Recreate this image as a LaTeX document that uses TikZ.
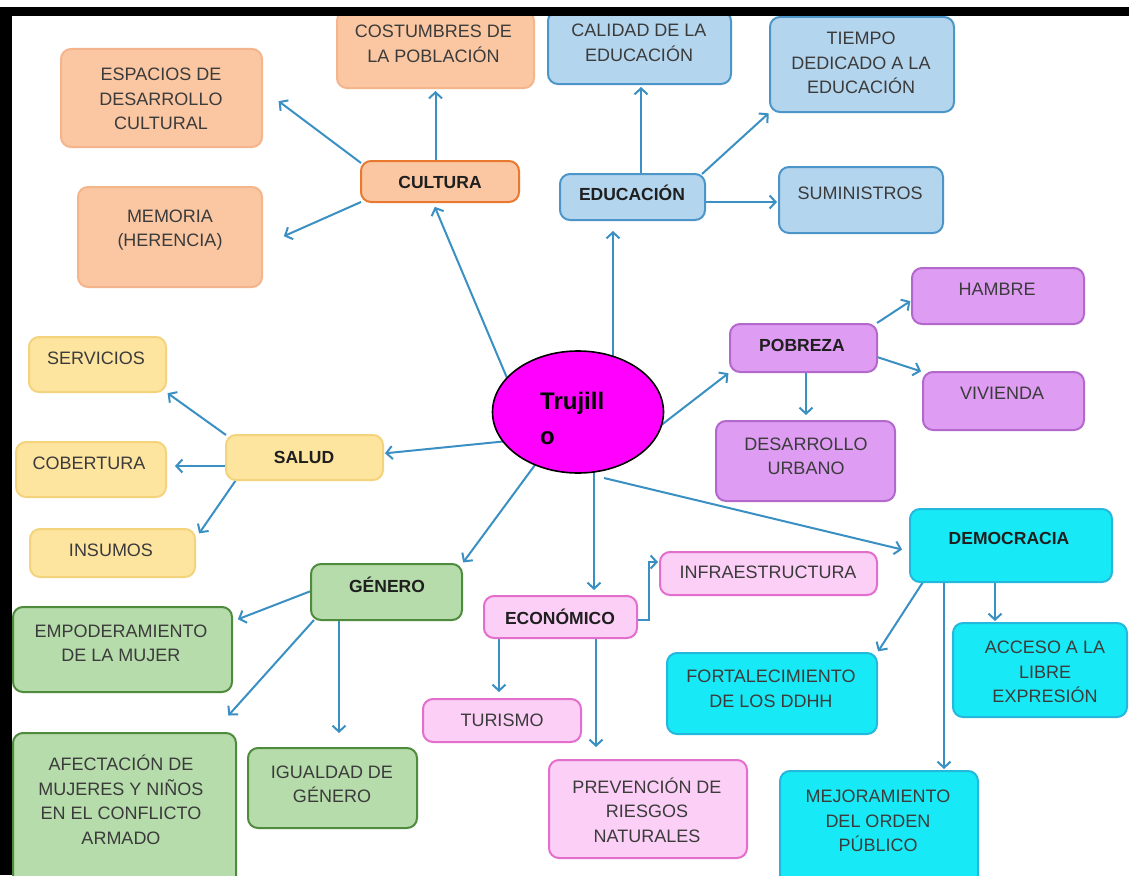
\documentclass[tikz,border=0pt]{standalone}
\usepackage{fontspec}
\setmainfont{Liberation Sans}
\usetikzlibrary{arrows.meta,shapes.geometric}
\definecolor{ofill}{HTML}{FBC7A2}
\definecolor{odraw}{HTML}{F4B58C}
\definecolor{ohead}{HTML}{E8792F}
\definecolor{bfill}{HTML}{B4D5EE}
\definecolor{bdraw}{HTML}{4C95C9}
\definecolor{pfill}{HTML}{DE9CF2}
\definecolor{pdraw}{HTML}{B368CC}
\definecolor{yfill}{HTML}{FDE49F}
\definecolor{ydraw}{HTML}{F3D47D}
\definecolor{gfill}{HTML}{B5DCAA}
\definecolor{gdraw}{HTML}{4E8B3C}
\definecolor{kfill}{HTML}{FCCFF6}
\definecolor{kdraw}{HTML}{E46ECC}
\definecolor{cfill}{HTML}{17EAF6}
\definecolor{cdraw}{HTML}{24B8DD}
\definecolor{arrc}{HTML}{3A90C3}
\definecolor{txtc}{HTML}{3B3B3B}
\definecolor{magen}{HTML}{FF00FF}
\pgfdeclarelayer{back}
\pgfdeclarelayer{bg}
\pgfsetlayers{back,bg,main}
\begin{document}
\begin{tikzpicture}[x=1pt,y=-1pt,
  box/.style={rounded corners=10pt, line width=2pt, inner sep=0pt, outer sep=0pt},
  sz/.style 2 args={minimum width=#1, minimum height=#2},
  obox/.style={box, fill=ofill, draw=odraw},
  ohbox/.style={box, fill=ofill, draw=ohead},
  bbox/.style={box, fill=bfill, draw=bdraw},
  pbox/.style={box, fill=pfill, draw=pdraw},
  ybox/.style={box, fill=yfill, draw=ydraw},
  gbox/.style={box, fill=gfill, draw=gdraw},
  kbox/.style={box, fill=kfill, draw=kdraw},
  cbox/.style={box, fill=cfill, draw=cdraw},
  txt/.style={align=center, text=txtc, inner sep=0pt, font=\fontsize{18}{24.5}\selectfont},
  htxt/.style={align=center, text=black!88, inner sep=0pt, font=\bfseries\fontsize{17.5}{21}\selectfont},
  arr/.style={draw=arrc, line width=2pt, -{Straight Barb[length=6pt,width=13pt]}, shorten >=2pt}
]
\useasboundingbox (0,0) rectangle (1129,875);
\begin{pgfonlayer}{back}
\fill[white] (0,0) rectangle (1129,875);
\end{pgfonlayer}

% central node
\node[ellipse, draw=black, line width=1.6pt, fill=magen, minimum width=171, minimum height=122, inner sep=0pt] (tru) at (578,412) {};
\node[anchor=west, align=left, inner sep=0pt, font=\bfseries\fontsize{24}{35}\selectfont] (truT) at (540,418) {Trujill\\o};

% CULTURA
\node[obox, sz={197}{77}] (cos) at (435.5,49.5) {};
\node[txt] (cosT) at (433.5,44) {COSTUMBRES DE\\LA POBLACIÓN};
\node[obox, sz={201}{98}] (esp) at (161.5,98) {};
\node[txt] (espT) at (161,99) {ESPACIOS DE\\DESARROLLO\\CULTURAL};
\node[obox, sz={184}{100}] (mem) at (170,237) {};
\node[txt] (memT) at (170,230) {MEMORIA\\(HERENCIA)};
\node[ohbox, sz={158}{41}] (cul) at (440,181.5) {};
\node[htxt] (culT) at (440,182) {CULTURA};

% EDUCACION
\node[bbox, sz={183}{73}] (cal) at (639.5,47.5) {};
\node[txt] (calT) at (639,43) {CALIDAD DE LA\\EDUCACIÓN};
\node[bbox, sz={184}{95}] (tie) at (862,64.5) {};
\node[txt] (tieT) at (861,63) {TIEMPO\\DEDICADO A LA\\EDUCACIÓN};
\node[bbox, sz={145}{46}] (edu) at (632.5,197) {};
\node[htxt] (eduT) at (632,193) {EDUCACIÓN};
\node[bbox, sz={164}{66}] (sum) at (861,200) {};
\node[txt] (sumT) at (860,193) {SUMINISTROS};

% SALUD
\node[ybox, sz={137}{55}] (ser) at (97.5,364.5) {};
\node[txt] (serT) at (96,358) {SERVICIOS};
\node[ybox, sz={150}{55}] (cob) at (91,469.5) {};
\node[txt] (cobT) at (89,463) {COBERTURA};
\node[ybox, sz={165}{48}] (ins) at (112.5,553) {};
\node[txt] (insT) at (111,550) {INSUMOS};
\node[ybox, sz={157}{45}] (sal) at (304.5,457.5) {};
\node[htxt] (salT) at (304,457) {SALUD};

% POBREZA
\node[pbox, sz={172}{56}] (ham) at (998,296) {};
\node[txt] (hamT) at (997,289) {HAMBRE};
\node[pbox, sz={147}{48}] (pob) at (803.5,348) {};
\node[htxt] (pobT) at (802,345) {POBREZA};
\node[pbox, sz={161}{58}] (viv) at (1003.5,401) {};
\node[txt] (vivT) at (1002,393) {VIVIENDA};
\node[pbox, sz={179}{80}] (des) at (805.5,461) {};
\node[txt] (desT) at (806,456.5) {DESARROLLO\\URBANO};

% GENERO
\node[gbox, sz={151}{56}] (gen) at (386.5,592) {};
\node[htxt] (genT) at (387,585) {GÉNERO};
\node[gbox, sz={219}{85}] (emp) at (122.5,649.5) {};
\node[txt] (empT) at (121,643.5) {EMPODERAMIENTO\\DE LA MUJER};
\node[gbox, sz={223}{157}] (afe) at (124.5,811.5) {};
\node[txt] (afeT) at (121,800) {AFECTACIÓN DE\\MUJERES Y NIÑOS\\EN EL CONFLICTO\\ARMADO};
\node[gbox, sz={169}{80}] (igu) at (332.5,788) {};
\node[txt] (iguT) at (332,784.5) {IGUALDAD DE\\GÉNERO};

% ECONOMICO
\node[kbox, sz={153}{42}] (eco) at (560.5,617) {};
\node[htxt] (ecoT) at (560,616.5) {ECONÓMICO};
\node[kbox, sz={217}{43}] (inf) at (768.5,573.5) {};
\node[txt] (infT) at (768,572) {INFRAESTRUCTURA};
\node[kbox, sz={158}{43}] (tur) at (502,720.5) {};
\node[txt] (turT) at (502,720) {TURISMO};
\node[kbox, sz={198}{98}] (pre) at (648,809) {};
\node[txt] (preT) at (647,810) {PREVENCIÓN DE\\RIESGOS\\NATURALES};

% DEMOCRACIA
\node[cbox, sz={202}{73}] (dem) at (1011,545.5) {};
\node[htxt] (demT) at (1009,538) {DEMOCRACIA};
\node[cbox, sz={210}{81}] (for) at (772,693.5) {};
\node[txt] (forT) at (771,689) {FORTALECIMIENTO\\DE LOS DDHH};
\node[cbox, sz={174}{94}] (acc) at (1040,670) {};
\node[txt] (accT) at (1045,672) {ACCESO A LA\\LIBRE\\EXPRESIÓN};
\node[cbox, sz={198}{119}] (mej) at (879,830.5) {};
\node[txt] (mejT) at (878,821) {MEJORAMIENTO\\DEL ORDEN\\PÚBLICO};

% helper coordinates
\coordinate (cB) at ([xshift=-19.5pt]edu.south);
\coordinate (cC) at ([xshift=8.5pt]edu.north);
\coordinate (cD) at ([yshift=-5pt]edu.east);
\coordinate (cE) at ([yshift=-8.5pt]sal.west);
\coordinate (cF) at ([xshift=-47.5pt]gen.south);
\coordinate (cG) at ([xshift=16pt]tru.center);
\coordinate (cH) at ([xshift=-3pt]tur.north);
\coordinate (cI) at ([xshift=35.5pt]eco.south);
\coordinate (cJ) at ([xshift=2.5pt]pob.south);
\coordinate (cK) at ([xshift=-67pt]dem.south);
\coordinate (cL) at ([xshift=-16pt]dem.south);

\begin{pgfonlayer}{bg}
% Trujillo spokes
\draw[arr] (tru.154) -- ([xshift=-6pt,yshift=-3pt]cul.south);
\draw[arr, shorten >=11pt] (cB |- tru.center) -- (cB);
\draw[arr] ([xshift=-60pt,yshift=-28pt]tru.center) -- ([yshift=4pt]sal.east);
\draw[arr] ([xshift=-32pt,yshift=-38pt]tru.center) -- (gen.north east);
\draw[arr, shorten >=6pt] (cG) -- (cG |- eco.north);
\draw[arr] ([xshift=62pt,yshift=-29.5pt]tru.center) -- (pob.south west);
\draw[arr] ([xshift=26pt,yshift=-66pt]tru.center) -- ([xshift=-6pt,yshift=-4.5pt]dem.west);
% Cultura
\draw[arr, shorten >=3pt] (cos.south |- cul.north) -- (cos.south);
\draw[arr] ([yshift=-2pt]cul.north west) -- ([xshift=15pt,yshift=-2pt]esp.east);
\draw[arr] (cul.south west) -- ([xshift=20pt]mem.east);
% Educacion
\draw[arr, shorten >=3pt] (cC) -- (cC |- cal.south);
\draw[arr] ([xshift=-3pt]edu.north east) -- (tie.south west);
\draw[arr] (cD) -- (cD -| sum.west);
% Salud
\draw[arr] (sal.north west) -- (ser.south east);
\draw[arr, shorten >=9pt] (cE) -- (cE -| cob.east);
\draw[arr] ([xshift=10pt]sal.south west) -- ([xshift=3pt,yshift=-6pt]ins.north east);
% Genero
\draw[arr] ([yshift=1pt]gen.west) -- ([xshift=4pt,yshift=-13pt]emp.north east);
\draw[arr] ([xshift=3pt]gen.south west) -- ([xshift=-9pt,yshift=16pt]afe.north east);
\draw[arr, shorten >=15pt] (cF) -- (cF |- igu.north);
% Economico
\draw[arr] ([yshift=-3pt]eco.east) -- ++(12,0) |- ([yshift=11.5pt]inf.west);
\draw[arr, shorten >=7pt] (cH |- eco.south) -- (cH);
\draw[arr, shorten >=13pt] (cI) -- (cI |- pre.north);
% Pobreza
\draw[arr] ([yshift=1pt]pob.north east) -- ([yshift=-4pt]ham.west);
\draw[arr] ([yshift=-9pt]pob.east) -- (viv.north west);
\draw[arr, shorten >=6pt] (cJ) -- (cJ |- des.north);
% Democracia
\draw[arr] ([xshift=-88pt]dem.south) -- (for.north east);
\draw[arr] (cK) -- (cK |- mej.north);
\draw[arr] (cL) -- (cL |- acc.north);
\end{pgfonlayer}

% black frame
\fill[black] (0,7) rectangle (1129,16);
\fill[black] (0,7) rectangle (12,875);
\end{tikzpicture}
\end{document}
